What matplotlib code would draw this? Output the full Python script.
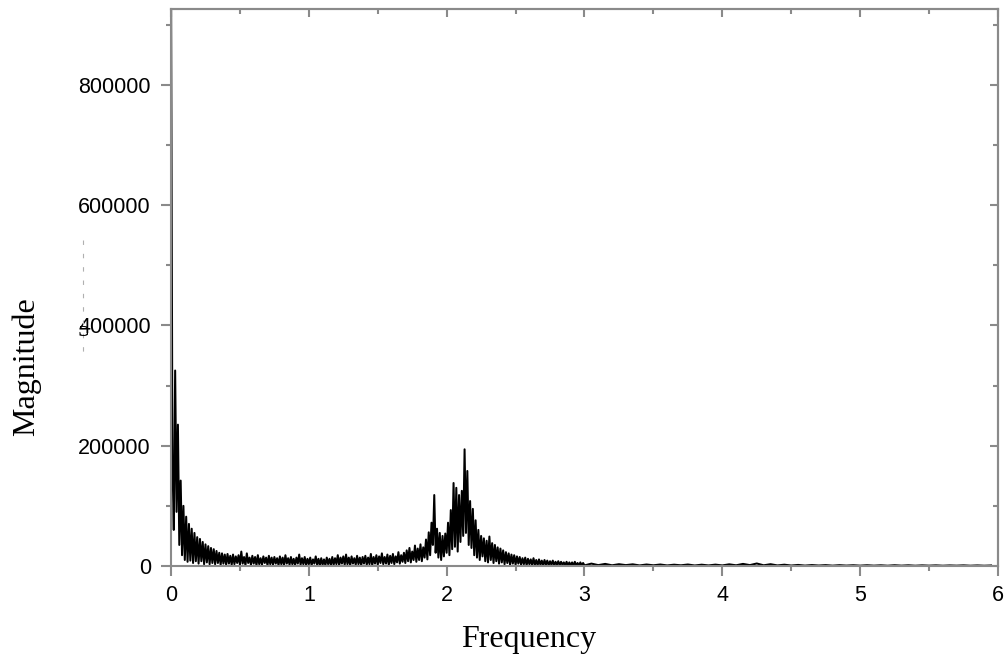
import numpy as np
import matplotlib as mpl
import matplotlib.pyplot as plt
from matplotlib.ticker import MultipleLocator, FixedLocator
from matplotlib.lines import Line2D
from matplotlib.patches import Rectangle

mpl.rcParams.update({
    "font.family": "sans-serif",
    "font.sans-serif": ["Liberation Sans", "DejaVu Sans"],
})

SPINE = "#8a8a8a"

# FFT magnitude, in thousands, bins 0.00 .. 2.99 (step 0.01)
f_step_fine = 0.01
mag_fine_k = [
    990, 180, 60, 325, 90, 235, 35, 142, 18, 100,
    10, 82, 7, 70, 9, 62, 5, 55, 8, 48,
    4, 45, 8, 40, 3, 36, 6, 33, 3, 30,
    5, 28, 3, 25, 5, 22, 2, 21, 4, 19,
    2, 20, 4, 17, 2, 19, 3, 16, 5, 18,
    2, 24, 4, 15, 1, 21, 5, 14, 2, 17,
    4, 15, 1, 18, 3, 13, 2, 16, 5, 14,
    1, 17, 3, 14, 2, 15, 4, 13, 1, 16,
    3, 14, 1, 18, 4, 13, 2, 15, 3, 12,
    1, 14, 4, 19, 2, 13, 3, 15, 1, 12,
    3, 14, 1, 11, 4, 16, 2, 12, 1, 13,
    2, 11, 1, 14, 3, 12, 1, 15, 2, 13,
    3, 18, 1, 14, 4, 16, 2, 19, 3, 14,
    1, 16, 4, 13, 2, 17, 3, 14, 1, 15,
    4, 17, 2, 14, 3, 20, 1, 15, 4, 18,
    2, 16, 5, 21, 3, 15, 4, 19, 2, 17,
    5, 20, 3, 16, 6, 23, 4, 18, 7, 22,
    5, 26, 8, 30, 6, 24, 10, 34, 7, 29,
    10, 36, 8, 31, 14, 44, 11, 56, 18, 72,
    35, 118, 22, 62, 14, 55, 10, 50, 16, 54,
    22, 72, 18, 93, 28, 138, 32, 130, 24, 118,
    40, 125, 50, 194, 55, 158, 35, 108, 30, 95,
    18, 76, 14, 60, 10, 50, 16, 46, 8, 42,
    6, 49, 10, 38, 5, 35, 8, 31, 4, 29,
    6, 26, 3, 23, 5, 21, 2, 19, 4, 18,
    2, 16, 4, 15, 2, 13, 3, 14, 1, 12,
    3, 11, 1, 13, 2, 10, 1, 11, 2, 9,
    1, 10, 2, 9, 1, 8, 2, 9, 1, 7,
    2, 8, 1, 7, 2, 6, 1, 7, 0.5, 6,
    1, 6, 0.5, 7, 1, 5, 0.5, 6, 1, 5,
]

# tail 3.00 .. 5.95 (step 0.05), thousands
f_tail_start = 3.0
f_step_tail = 0.05
mag_tail_k = [
    1, 4, 1.5, 3.5, 1.2, 3, 1.5, 2.8, 1, 2.5,
    1.2, 2.5, 1, 2.2, 1.2, 2.5, 0.9, 2.2, 1, 2.3,
    1, 2.8, 1.2, 3.5, 1.5, 4.2, 1.2, 3, 1, 2.2,
    0.8, 1.8, 0.7, 1.6, 0.8, 1.5, 0.6, 1.4, 0.7, 1.3,
    0.6, 1.3, 0.6, 1.2, 0.5, 1.3, 0.6, 1.2, 0.5, 1.1,
    0.6, 1.1, 0.5, 1.0, 0.6, 1.1, 0.5, 1.0, 0.5, 0.9,
]

freq = np.concatenate([
    np.arange(len(mag_fine_k)) * f_step_fine,
    f_tail_start + np.arange(len(mag_tail_k)) * f_step_tail,
])
mag = np.array(mag_fine_k + mag_tail_k, dtype=float) * 1000

fig = plt.figure(figsize=(10.06, 6.61), dpi=100)
ax = fig.add_axes([0.170, 0.1437, 0.822, 0.8427])

ax.plot(freq, mag, color="black", linewidth=1.45)
ax.set_xlim(0, 6)
ax.set_ylim(0, 926000)

ax.xaxis.set_major_locator(MultipleLocator(1))
ax.xaxis.set_minor_locator(MultipleLocator(0.5))
ax.yaxis.set_major_locator(FixedLocator([0, 200000, 400000, 600000, 800000]))
ax.yaxis.set_minor_locator(MultipleLocator(100000))
ax.ticklabel_format(axis="y", style="plain", useOffset=False)

for s in ax.spines.values():
    s.set_color(SPINE)
    s.set_linewidth(1.5)

ax.tick_params(which="major", direction="out", length=7.5, width=1.5,
               color=SPINE, labelsize=15.5, pad=6)
ax.tick_params(which="minor", direction="out", length=3.8, width=1.5, color=SPINE)
ax.tick_params(axis="y", which="major", pad=7)

# mirrored ticks pointing inward on top and right
top = ax.secondary_xaxis("top")
top.xaxis.set_major_locator(MultipleLocator(1))
top.xaxis.set_minor_locator(MultipleLocator(0.5))
right = ax.secondary_yaxis("right")
right.yaxis.set_major_locator(MultipleLocator(200000))
right.yaxis.set_minor_locator(MultipleLocator(100000))
for sec in (top, right):
    for s in sec.spines.values():
        s.set_color(SPINE)
        s.set_linewidth(1.5)
    sec.tick_params(which="major", direction="in", length=5.5, width=1.5, color=SPINE)
    sec.tick_params(which="minor", direction="in", length=3.5, width=1.5, color=SPINE)
top.tick_params(labeltop=False)
right.tick_params(labelright=False)

fig.text(529 / 1006, 1 - 639 / 661, "Frequency", family="Liberation Serif",
         fontsize=23, ha="center", va="center")
fig.text(26 / 1006, 1 - 367 / 661, "Magnitude", family="Liberation Serif",
         fontsize=23, ha="center", va="center", rotation=90)

# leftover bits of an overlapped label, partly hidden
frag = fig.text(84 / 1006, 1 - 330 / 661, "5", family="Liberation Serif",
                fontsize=18, ha="center", va="center")
frag.set_clip_path(Rectangle((78 / 1006, 1 - 346 / 661), 10 / 1006, 20 / 661,
                             transform=fig.transFigure))
fig.add_artist(Line2D([83 / 1006, 83 / 1006], [1 - 240 / 661, 1 - 360 / 661],
                      transform=fig.transFigure, color="#b0b0b0",
                      linewidth=0.8, linestyle=(0, (4, 8))))

fig.savefig("out.png", dpi=100)
